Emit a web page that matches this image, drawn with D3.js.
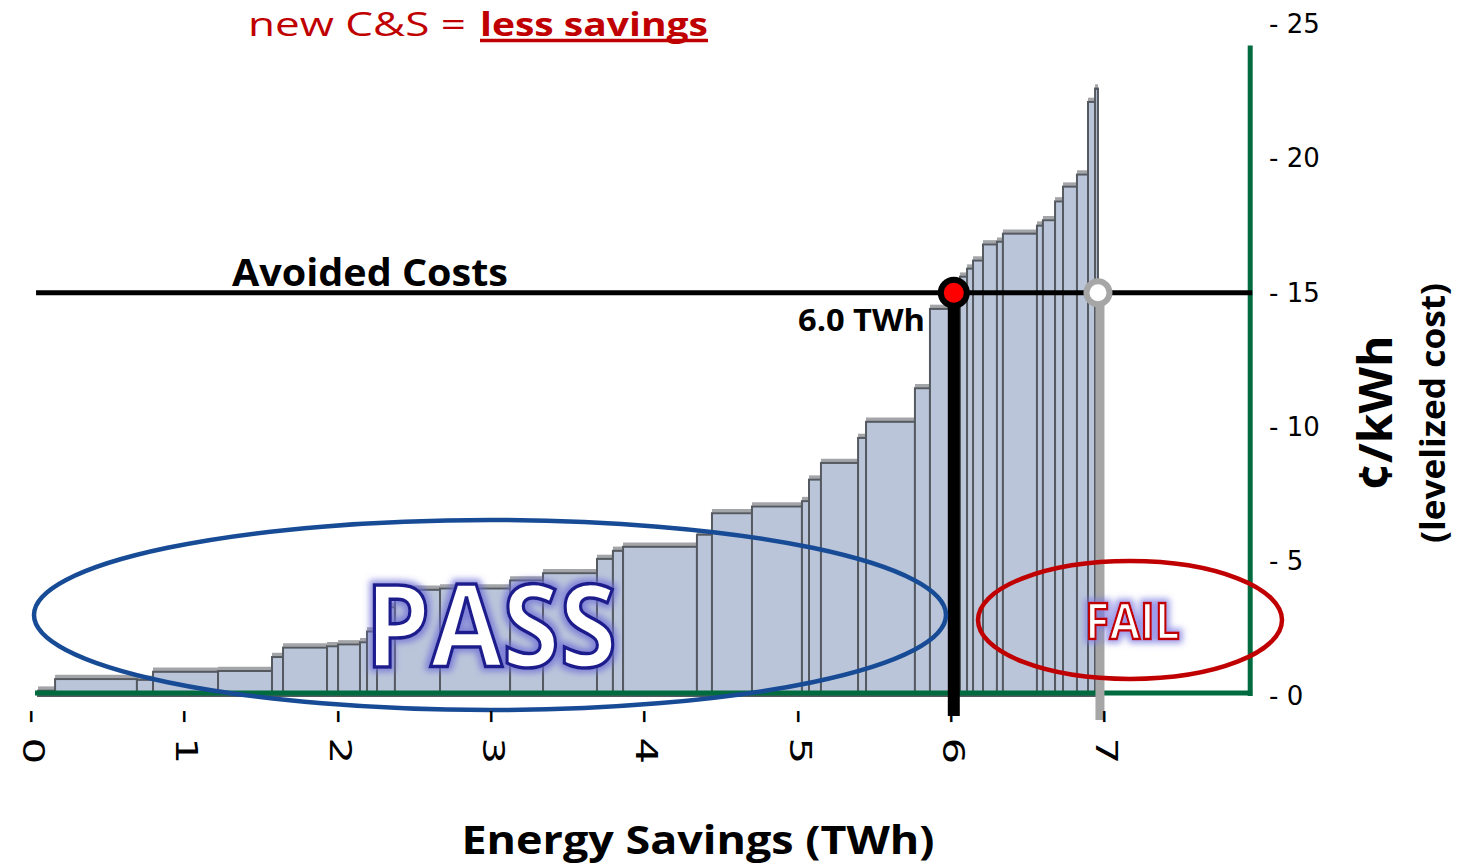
<!DOCTYPE html>
<html>
<head>
<meta charset="utf-8">
<script src="https://cdn.jsdelivr.net/npm/d3@7"></script>
<style>
  body { margin: 0; background: #fff; }
  svg { display: block; }
</style>
</head>
<body>
<div id="chart"></div>
<script>
// supply curve: step edges in TWh (n+1) and levelized cost of each step in ¢/kWh (n)
var savingsBreaks = [0.033, 0.144, 0.678, 0.783, 1.207, 1.559, 1.631, 1.918, 1.990, 2.133,
    2.179, 2.244, 2.361, 2.655, 3.112, 3.327, 3.679, 3.783, 3.849, 4.331,
    4.429, 4.690, 5.016, 5.062, 5.140, 5.382, 5.434, 5.753, 5.851, 5.982,
    6.047, 6.093, 6.132, 6.197, 6.288, 6.327, 6.549, 6.588, 6.667, 6.719,
    6.810, 6.882, 6.928, 6.947];
var stepCosts = [0.2, 0.63, 0.6, 0.9, 0.93, 1.45, 1.8, 1.85, 1.92, 2.0,
    2.4, 3.3, 3.95, 4.0, 4.3, 4.57, 5.1, 5.4, 5.55, 6.0,
    6.8, 7.05, 7.25, 8.05, 8.67, 9.6, 10.2, 11.45, 14.4, 15.1,
    15.6, 15.9, 16.2, 16.8, 16.9, 17.2, 17.5, 17.7, 18.4, 18.95,
    19.4, 22.1, 22.6];

var xTicks = [0, 1, 2, 3, 4, 5, 6, 7];
var yTicks = [0, 5, 10, 15, 20, 25];

var avoidedCost = 15;     // ¢/kWh
var passSavings = 6.0;    // TWh that pass at avoided cost
var newSavings = 6.96;    // TWh with new C&S
var xMax = 7.94;
var yMax = 24.2;

var width = 1463, height = 866;

var svg = d3.select("#chart").append("svg")
    .attr("width", width)
    .attr("height", height);

var x = d3.scaleLinear().domain([0, 8]).range([33, 33 + 153.3 * 8]);
var y = d3.scaleLinear().domain([0, 25]).range([696, 24]);

var green = "#006b3f";
var defs = svg.append("defs");

function glow(id, color) {
    var f = defs.append("filter").attr("id", id)
        .attr("x", "-20%").attr("y", "-30%").attr("width", "140%").attr("height", "160%");
    f.append("feMorphology").attr("in", "SourceAlpha").attr("operator", "dilate").attr("radius", 3).attr("result", "thick");
    f.append("feGaussianBlur").attr("in", "thick").attr("stdDeviation", 3).attr("result", "blur");
    f.append("feFlood").attr("flood-color", color).attr("flood-opacity", 0.75);
    f.append("feComposite").attr("in2", "blur").attr("operator", "in").attr("result", "halo");
    var m = f.append("feMerge");
    m.append("feMergeNode").attr("in", "halo");
    m.append("feMergeNode").attr("in", "SourceGraphic");
}
glow("passGlow", "#6b6bd6");
glow("failGlow", "#7a7ae0");

// steps
var steps = stepCosts.map(function(c, i) {
    return { x0: savingsBreaks[i], x1: savingsBreaks[i + 1], cost: c };
});

var stepG = svg.append("g");

// soft grey shadow over each tread
stepG.selectAll("line.shadow")
    .data(steps)
    .enter()
    .append("line")
    .attr("class", "shadow")
    .attr("x1", function(d) { return x(d.x0); })
    .attr("x2", function(d) { return x(d.x1); })
    .attr("y1", function(d) { return y(d.cost) - 2.5; })
    .attr("y2", function(d) { return y(d.cost) - 2.5; })
    .attr("stroke", "#a3a5a8")
    .attr("stroke-width", 3.5);

stepG.selectAll("rect")
    .data(steps)
    .enter()
    .append("rect")
    .attr("x", function(d) { return x(d.x0); })
    .attr("y", function(d) { return y(d.cost); })
    .attr("width", function(d) { return x(d.x1) - x(d.x0); })
    .attr("height", function(d) { return y(0) - y(d.cost); })
    .attr("fill", "#bac5da")
    .attr("stroke", "#555a61")
    .attr("stroke-width", 2);

// green frame
svg.append("line")
    .attr("x1", x(0) + 2).attr("x2", x(xMax) + 2)
    .attr("y1", y(0) - 3).attr("y2", y(0) - 3)
    .attr("stroke", green).attr("stroke-width", 5);
svg.append("line")
    .attr("x1", x(xMax)).attr("x2", x(xMax))
    .attr("y1", y(yMax)).attr("y2", y(0))
    .attr("stroke", green).attr("stroke-width", 5);

// avoided cost line
svg.append("line")
    .attr("x1", x(0.02)).attr("x2", x(xMax) + 2)
    .attr("y1", y(avoidedCost)).attr("y2", y(avoidedCost))
    .attr("stroke", "#000").attr("stroke-width", 5);

svg.append("text")
    .attr("x", 232).attr("y", 286)
    .attr("font-family", "Open Sans, sans-serif")
    .attr("font-weight", "bold")
    .attr("font-size", 38)
    .attr("textLength", 276).attr("lengthAdjust", "spacingAndGlyphs")
    .text("Avoided Costs");

// new C&S line (grey)
svg.append("line")
    .attr("x1", x(newSavings)).attr("x2", x(newSavings))
    .attr("y1", y(avoidedCost)).attr("y2", 720)
    .attr("stroke", "#a6a6a6").attr("stroke-width", 9);
svg.append("circle")
    .attr("cx", x(newSavings) - 2).attr("cy", y(avoidedCost))
    .attr("r", 11.5)
    .attr("fill", "#fff").attr("stroke", "#a6a6a6").attr("stroke-width", 6);

// pass point
svg.append("line")
    .attr("x1", x(passSavings) + 1).attr("x2", x(passSavings) + 1)
    .attr("y1", y(avoidedCost)).attr("y2", 716)
    .attr("stroke", "#000").attr("stroke-width", 12);
svg.append("circle")
    .attr("cx", x(passSavings) + 1).attr("cy", y(avoidedCost))
    .attr("r", 16).attr("fill", "#000");
svg.append("circle")
    .attr("cx", x(passSavings) + 1).attr("cy", y(avoidedCost))
    .attr("r", 10).attr("fill", "#ff0000");

svg.append("text")
    .attr("x", 798).attr("y", 331)
    .attr("font-family", "Open Sans, sans-serif")
    .attr("font-weight", "bold")
    .attr("font-size", 30)
    .attr("textLength", 127).attr("lengthAdjust", "spacingAndGlyphs")
    .text(passSavings.toFixed(1) + " TWh");

// ellipses
svg.append("ellipse")
    .attr("cx", 490).attr("cy", 615).attr("rx", 456).attr("ry", 95)
    .attr("fill", "none").attr("stroke", "#174b95").attr("stroke-width", 4.5);
svg.append("ellipse")
    .attr("cx", 1130).attr("cy", 620).attr("rx", 152).attr("ry", 59)
    .attr("fill", "none").attr("stroke", "#c00000").attr("stroke-width", 4.5);

svg.append("text")
    .attr("x", 365).attr("y", 667)
    .attr("font-family", "Open Sans, sans-serif")
    .attr("font-weight", "bold")
    .attr("font-size", 114)
    .attr("textLength", 252).attr("lengthAdjust", "spacingAndGlyphs")
    .attr("fill", "#fff")
    .attr("stroke", "#1c1a8c").attr("stroke-width", 3.5)
    .attr("filter", "url(#passGlow)")
    .text("PASS");

svg.append("text")
    .attr("x", 1085).attr("y", 639)
    .attr("font-family", "Open Sans, sans-serif")
    .attr("font-weight", "bold")
    .attr("font-size", 50)
    .attr("textLength", 95).attr("lengthAdjust", "spacingAndGlyphs")
    .attr("fill", "#fff")
    .attr("stroke", "#c00000").attr("stroke-width", 2.5)
    .attr("filter", "url(#failGlow)")
    .text("FAIL");

// title
var title = svg.append("text")
    .attr("y", 36)
    .attr("font-family", "Open Sans, sans-serif")
    .attr("font-size", 33)
    .attr("fill", "#c00000");
title.append("tspan").attr("x", 248)
    .attr("textLength", 218).attr("lengthAdjust", "spacingAndGlyphs")
    .text("new  C&S =");
title.append("tspan").attr("x", 480)
    .attr("font-weight", "bold")
    .attr("textLength", 228).attr("lengthAdjust", "spacingAndGlyphs")
    .text("less savings");
svg.append("line")
    .attr("x1", 480).attr("x2", 708).attr("y1", 40.5).attr("y2", 40.5)
    .attr("stroke", "#c00000").attr("stroke-width", 3.5);

// right axis
var yAxis = d3.axisRight(y)
    .tickValues(yTicks)
    .tickSize(0)
    .tickPadding(0)
    .tickFormat(function(d) { return "- " + d; });
var yg = svg.append("g")
    .attr("transform", "translate(1269,0)")
    .call(yAxis);
yg.select(".domain").remove();
yg.selectAll("text")
    .attr("font-family", "DejaVu Sans, sans-serif")
    .attr("font-size", 26)
    .attr("fill", "#000");

// bottom axis labels, turned on their side
svg.append("g")
    .selectAll("text")
    .data(xTicks)
    .enter()
    .append("text")
    .attr("transform", function(d) { return "translate(" + (x(d) + 1) + ",709) rotate(90) scale(1.4,1)"; })
    .attr("dy", "0.36em")
    .attr("font-family", "DejaVu Sans, sans-serif")
    .attr("font-size", 30)
    .text(function(d) { return "- " + d; });

svg.append("text")
    .attr("x", 698).attr("y", 854)
    .attr("text-anchor", "middle")
    .attr("font-family", "Open Sans, sans-serif")
    .attr("font-weight", "bold")
    .attr("font-size", 39)
    .attr("textLength", 473).attr("lengthAdjust", "spacingAndGlyphs")
    .text("Energy Savings (TWh)");

// y titles
svg.append("text")
    .attr("transform", "translate(1392,413) rotate(-90)")
    .attr("text-anchor", "middle")
    .attr("font-family", "Open Sans, sans-serif")
    .attr("font-weight", "bold")
    .attr("font-size", 46)
    .attr("textLength", 155).attr("lengthAdjust", "spacingAndGlyphs")
    .text("¢/kWh");
svg.append("text")
    .attr("transform", "translate(1445,413) rotate(-90)")
    .attr("text-anchor", "middle")
    .attr("font-family", "Open Sans, sans-serif")
    .attr("font-weight", "bold")
    .attr("font-size", 34)
    .attr("textLength", 260).attr("lengthAdjust", "spacingAndGlyphs")
    .text("(levelized cost)");
</script>
</body>
</html>
